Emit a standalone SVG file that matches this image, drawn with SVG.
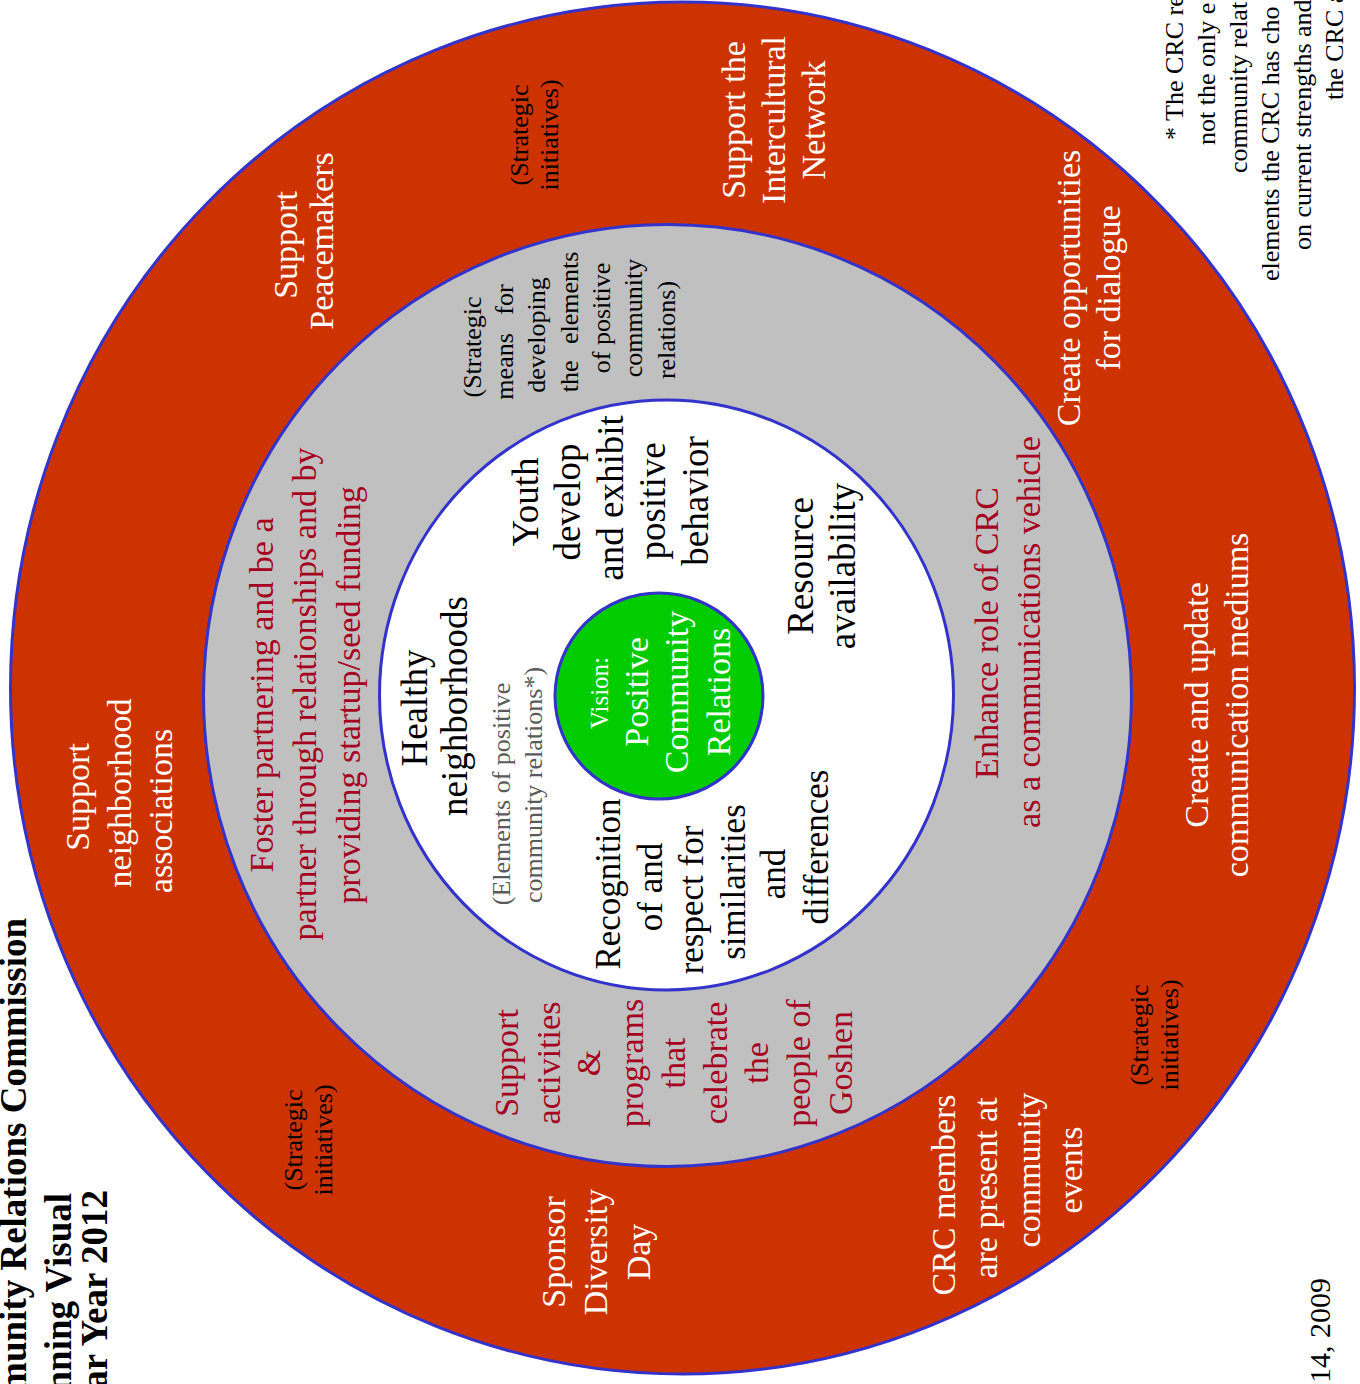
<svg xmlns="http://www.w3.org/2000/svg" width="1360" height="1384" viewBox="0 0 1360 1384">
<style>
text{font-family:"Liberation Serif","Times New Roman",serif;text-anchor:middle}
.ring{stroke:#3333CC;stroke-width:3}
.w{fill:#FFFFFF;font-size:34px}
.r{fill:#A50021;font-size:34px}
.k{fill:#000000;font-size:36px}
.s{fill:#000000;font-size:26px}
.g{fill:#5a5a5a;font-size:26px}
.title{fill:#000;font-size:37px;font-weight:bold;text-anchor:end}
.note{fill:#000;font-size:26px;text-anchor:start}
</style>
<rect width="1360" height="1384" fill="#FFFFFF"/>
<g id="ring-outer">
<ellipse class="ring" cx="682.5" cy="688" rx="672" ry="686" fill="#CC3300"/>
</g>
<g id="ring-middle">
<ellipse class="ring" cx="667.5" cy="695.5" rx="464" ry="471" fill="#C0C0C0"/>
</g>
<g id="ring-inner">
<ellipse class="ring" cx="666.5" cy="695" rx="287" ry="295" fill="#FFFFFF"/>
</g>
<g id="vision">
<ellipse class="ring" cx="659" cy="696" rx="104" ry="103" fill="#00CC00"/>
<text class="w" style="font-size:25px" transform="translate(608,693) rotate(-90)">Vision:</text>
<text class="w" transform="translate(648,692) rotate(-90)">Positive</text>
<text class="w" transform="translate(688,692) rotate(-90)">Community</text>
<text class="w" transform="translate(730,692) rotate(-90)">Relations</text>
</g>
<g id="title">
<text class="title" transform="translate(26,918) rotate(-90)">Community Relations Commission</text>
<text class="title" transform="translate(71,1193) rotate(-90)">Planning Visual</text>
<text class="title" transform="translate(107,1190) rotate(-90)">Calendar Year 2012</text>
</g>
<g id="footnote">
<text class="note" transform="translate(1183,140) rotate(-90)">* The CRC re</text>
<text class="note" transform="translate(1215,145) rotate(-90)">not the only e</text>
<text class="note" transform="translate(1247,173) rotate(-90)">community relat</text>
<text class="note" transform="translate(1279,281) rotate(-90)">elements the CRC has cho</text>
<text class="note" transform="translate(1311,250) rotate(-90)">on current strengths and</text>
<text class="note" transform="translate(1343,100) rotate(-90)">the CRC a</text>
</g>
<g id="date">
<text style="font-size:30px;text-anchor:end" transform="translate(1330,1278) rotate(-90)">14, 2009</text>
</g>
<g id="support-neighborhood-associations">
<text class="w" transform="translate(89,797) rotate(-90)">Support</text>
<text class="w" transform="translate(131,793) rotate(-90)">neighborhood</text>
<text class="w" transform="translate(172,811) rotate(-90)">associations</text>
</g>
<g id="support-peacemakers">
<text class="w" transform="translate(297,245) rotate(-90)">Support</text>
<text class="w" transform="translate(333,241) rotate(-90)">Peacemakers</text>
</g>
<g id="strategic-initiatives-top">
<text class="s" transform="translate(528,135) rotate(-90)">(Strategic</text>
<text class="s" transform="translate(558,135) rotate(-90)">initiatives)</text>
</g>
<g id="support-intercultural-network">
<text class="w" transform="translate(745,120) rotate(-90)">Support the</text>
<text class="w" transform="translate(785,120) rotate(-90)">Intercultural</text>
<text class="w" transform="translate(825,120) rotate(-90)">Network</text>
</g>
<g id="create-opportunities">
<text class="w" transform="translate(1080,288) rotate(-90)">Create opportunities</text>
<text class="w" transform="translate(1120,288) rotate(-90)">for dialogue</text>
</g>
<g id="create-update-mediums">
<text class="w" transform="translate(1208,705) rotate(-90)">Create and update</text>
<text class="w" transform="translate(1248,705) rotate(-90)">communication mediums</text>
</g>
<g id="strategic-initiatives-right">
<text class="s" transform="translate(1148,1035) rotate(-90)">(Strategic</text>
<text class="s" transform="translate(1178,1035) rotate(-90)">initiatives)</text>
</g>
<g id="crc-members-present">
<text class="w" transform="translate(955,1195) rotate(-90)">CRC members</text>
<text class="w" transform="translate(997,1188) rotate(-90)">are present at</text>
<text class="w" transform="translate(1040,1170) rotate(-90)">community</text>
<text class="w" transform="translate(1082,1170) rotate(-90)">events</text>
</g>
<g id="sponsor-diversity-day">
<text class="w" transform="translate(565,1252) rotate(-90)">Sponsor</text>
<text class="w" transform="translate(607,1252) rotate(-90)">Diversity</text>
<text class="w" transform="translate(650,1252) rotate(-90)">Day</text>
</g>
<g id="strategic-initiatives-left">
<text class="s" transform="translate(302,1140) rotate(-90)">(Strategic</text>
<text class="s" transform="translate(332,1140) rotate(-90)">initiatives)</text>
</g>
<g id="foster-partnering">
<text class="r" transform="translate(273,695) rotate(-90)">Foster partnering and be a</text>
<text class="r" transform="translate(316,694) rotate(-90)">partner through relationships and by</text>
<text class="r" transform="translate(360,695) rotate(-90)">providing startup/seed funding</text>
</g>
<g id="support-activities">
<text class="r" transform="translate(518,1063) rotate(-90)">Support</text>
<text class="r" transform="translate(560,1063) rotate(-90)">activities</text>
<text class="r" transform="translate(600,1063) rotate(-90)">&amp;</text>
<text class="r" transform="translate(643,1063) rotate(-90)">programs</text>
<text class="r" transform="translate(685,1063) rotate(-90)">that</text>
<text class="r" transform="translate(727,1063) rotate(-90)">celebrate</text>
<text class="r" transform="translate(768,1063) rotate(-90)">the</text>
<text class="r" transform="translate(810,1063) rotate(-90)">people of</text>
<text class="r" transform="translate(852,1063) rotate(-90)">Goshen</text>
</g>
<g id="enhance-role">
<text class="r" transform="translate(998,633) rotate(-90)">Enhance role of CRC</text>
<text class="r" transform="translate(1040,632) rotate(-90)">as a communications vehicle</text>
</g>
<g id="strategic-means">
<text class="s" transform="translate(481,347) rotate(-90)">(Strategic</text>
<text class="s" word-spacing="12" transform="translate(513,342) rotate(-90)">means for</text>
<text class="s" transform="translate(545,335) rotate(-90)">developing</text>
<text class="s" word-spacing="10" transform="translate(578,322) rotate(-90)">the elements</text>
<text class="s" transform="translate(610,318) rotate(-90)">of positive</text>
<text class="s" transform="translate(642,318) rotate(-90)">community</text>
<text class="s" transform="translate(675,330) rotate(-90)">relations)</text>
</g>
<g id="elements-label">
<text class="g" transform="translate(510,794) rotate(-90)">(Elements of positive</text>
<text class="g" transform="translate(542,785) rotate(-90)">community relations*)</text>
</g>
<g id="healthy-neighborhoods">
<text class="k" style="font-size:37px" transform="translate(427,708) rotate(-90)">Healthy</text>
<text class="k" style="font-size:37px" transform="translate(467,706) rotate(-90)">neighborhoods</text>
</g>
<g id="youth">
<text class="k" style="font-size:37px" transform="translate(538,502) rotate(-90)">Youth</text>
<text class="k" style="font-size:37px" transform="translate(580,502) rotate(-90)">develop</text>
<text class="k" style="font-size:37px" transform="translate(623,498) rotate(-90)">and exhibit</text>
<text class="k" style="font-size:37px" transform="translate(665,501) rotate(-90)">positive</text>
<text class="k" style="font-size:37px" transform="translate(708,501) rotate(-90)">behavior</text>
</g>
<g id="resource-availability">
<text class="k" style="font-size:37px" transform="translate(813,566) rotate(-90)">Resource</text>
<text class="k" style="font-size:37px" transform="translate(855,566) rotate(-90)">availability</text>
</g>
<g id="recognition">
<text class="k" style="font-size:35px" transform="translate(620,884) rotate(-90)">Recognition</text>
<text class="k" style="font-size:35px" transform="translate(662,887) rotate(-90)">of and</text>
<text class="k" style="font-size:35px" transform="translate(703,900) rotate(-90)">respect for</text>
<text class="k" style="font-size:35px" transform="translate(745,882) rotate(-90)">similarities</text>
<text class="k" style="font-size:35px" transform="translate(785,874) rotate(-90)">and</text>
<text class="k" style="font-size:35px" transform="translate(828,847) rotate(-90)">differences</text>
</g>
<g id="connectors"></g>
</svg>
